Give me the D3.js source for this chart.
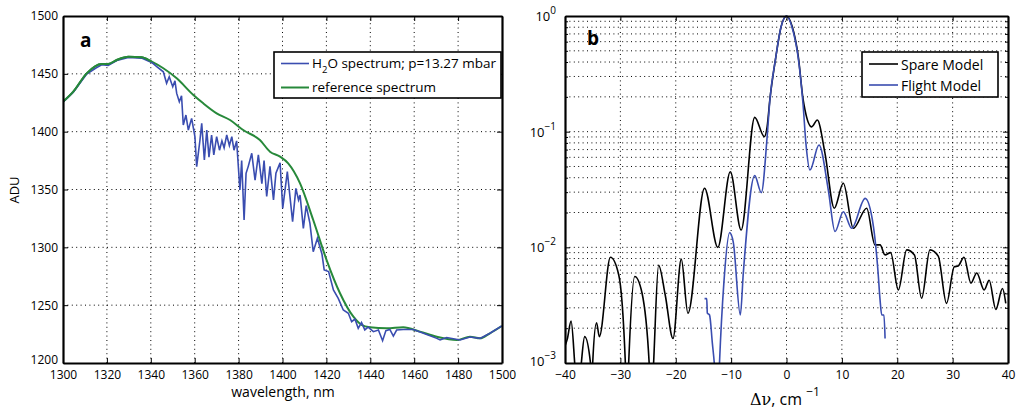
<!DOCTYPE html>
<html><head><meta charset="utf-8">
<script src="https://cdn.jsdelivr.net/npm/d3@7"></script>
<style>
html,body{margin:0;padding:0;background:#fff;}
svg text{font-family:"Open Sans","Liberation Sans",sans-serif;fill:#000;}
</style></head>
<body><svg id="c" width="1016" height="410"></svg>
<script>
// ---------- Panel a data ----------
const waveRef = [1300,1304.7,1310.8,1317.6,1320.6,1324.5,1329.8,1335.8,1340.4,1345.7,1351.8,1359.4,1363.9,1370,1376.1,1382.1,1389.7,1394.3,1398.9,1402.6,1408,1414,1420.1,1426.2,1432.3,1436,1439.9,1447.5,1455,1462.6,1470.3,1479.4,1485.4,1490,1494.5,1499.9];
const aduRef = [1425.9,1434.6,1450.4,1458.5,1458.5,1462,1464.8,1464.3,1460.5,1454.8,1446.1,1431.7,1424.5,1415.9,1410.1,1401.4,1392.8,1382.7,1378.4,1372.6,1355.3,1323.6,1289,1260.3,1240,1233,1230.9,1230,1230.9,1227.1,1222.7,1219.9,1222.7,1221.3,1225.7,1232];
const waveH2O = [1300,1304.7,1310.8,1315,1317.6,1320.6,1324.5,1329.8,1335.8,1340.4,1342.7,1345.7,1347.2,1348.4,1350,1351,1351.8,1353,1354,1354.8,1356,1357.1,1358.6,1360.1,1360.9,1362.4,1363.2,1364.4,1365.5,1366.5,1367.7,1368.7,1370,1371.3,1372.4,1373.4,1374.6,1375.8,1376.9,1377.9,1379.1,1380.6,1381.4,1382.5,1383.4,1384.4,1386,1387.5,1389,1390.6,1391.6,1392.8,1394.3,1395.9,1397,1398.9,1400.1,1402.2,1404.6,1406.1,1407.3,1408,1409.5,1410.8,1412.5,1414,1415.9,1418,1419,1421,1423.2,1425.4,1427.7,1430,1431.5,1433,1434.5,1436,1437.5,1439,1441.4,1443.7,1445.6,1447.1,1448.9,1450.5,1452,1455,1459.6,1464.2,1470.3,1471.8,1474.8,1480.9,1485.4,1490,1494.5,1499.9];
const aduH2O = [1425.5,1434.2,1449.8,1455,1457.8,1457.2,1461.5,1464.2,1463.6,1459.8,1456.3,1451.8,1441.8,1447.5,1438.9,1444,1433.1,1425.9,1431,1405.8,1414.4,1401.4,1411.5,1395.7,1369.7,1392.8,1407.2,1375.5,1401.4,1378,1397.1,1380,1395.7,1384,1392,1386,1397.1,1388,1395.7,1384,1392,1349.6,1375,1323.6,1364,1370,1381.3,1358,1380,1355,1375,1344,1370,1341,1364,1373,1333.7,1365.4,1322.2,1351,1341,1345.2,1316.4,1336,1320.7,1296.2,1307.8,1294,1280.4,1279,1263.1,1255.9,1245.8,1243,1235.7,1238,1230,1235,1228.6,1231,1227.1,1228.5,1219.3,1228,1229,1223.3,1228.5,1229,1229,1225.7,1221.3,1219.9,1222,1219.9,1222.5,1221.3,1225.7,1232];
const ticksWave = [1300,1320,1340,1360,1380,1400,1420,1440,1460,1480,1500];
const ticksADU = [1200,1250,1300,1350,1400,1450,1500];
const legendA = ["spectrum; p=13.27 mbar","reference spectrum"];

// ---------- Panel b data ----------
const dvSpare = [-40,-39.6,-38.9,-38.25,-37.7,-37.05,-36.45,-35.4,-35.2,-35.0,-34.3,-33.8,-31.8,-30.3,-29.1,-28.8,-28.5,-27.4,-26.1,-24.8,-24.4,-24.0,-23.1,-21.9,-20.5,-19.0,-17.8,-14.8,-12.4,-10.15,-8.2,-5.74,-4.0,-3.5,-3.0,-2.0,-1.0,0,1.0,2.13,3.0,3.34,4.55,5.56,6.95,8.63,10.26,12.07,14.48,15.98,16.9,17.8,18.8,20.2,21.7,23.1,24.4,25.9,27.4,28.9,30.3,31.0,32.05,33.3,34.35,35.7,36.6,37.8,39.0,39.6];
const valSpare = [1.4e-3,1.6e-3,2.3e-3,1.0e-3,4e-4,1.0e-3,1.69e-3,1.0e-3,5e-4,1.0e-3,2.23e-3,1.69e-3,8.2e-3,5.8e-3,1.0e-3,4e-4,1.0e-3,5.6e-3,4.05e-3,1.0e-3,4e-4,1.0e-3,7.0e-3,3.87e-3,1.63e-3,7.9e-3,2.69e-3,0.0324,0.0100,0.045,0.0141,0.133,0.0905,0.11,0.19,0.42,0.80,1.0,0.82,0.445,0.19,0.154,0.110,0.126,0.065,0.0218,0.0358,0.0146,0.0218,0.0105,0.0105,8.6e-3,9.0e-3,4.28e-3,9.5e-3,8.6e-3,3.63e-3,9.5e-3,8.4e-3,3.28e-3,6.8e-3,6.9e-3,8.2e-3,4.9e-3,6.0e-3,4.28e-3,5.2e-3,2.91e-3,4.4e-3,3.28e-3];
const dvFlight = [-14.8,-14.4,-14.3,-13.9,-13.4,-12.9,-12.5,-12.1,-11.3,-10.26,-9.6,-8.34,-7.8,-5.74,-4.55,-3.5,-3.0,-2.0,-1.0,0,1.0,2.13,3.0,3.5,4.24,5.87,7.55,8.76,10.26,11.77,14.2,15.7,16.5,16.9,17.2,17.6,17.8];
const valFlight = [3.6e-3,3.6e-3,2.7e-3,2.6e-3,1.5e-3,8e-4,3e-4,1.0e-3,5e-3,0.0134,0.011,2.6e-3,6e-3,0.0417,0.0297,0.09,0.188,0.42,0.80,1.0,0.80,0.43,0.17,0.08,0.0466,0.0767,0.0313,0.0137,0.0203,0.0146,0.0265,0.0151,6.4e-3,3.5e-3,2.6e-3,2.6e-3,1.63e-3];
const ticksDv = [-40,-30,-20,-10,0,10,20,30,40];
const ticksLogMajor = [1e-3,1e-2,1e-1,1];
const legendB = ["Spare Model","Flight Model"];

const svg = d3.select("#c");
svg.append("rect").attr("width",1016).attr("height",410).attr("fill","#fff");
const defs = svg.append("defs");
const BLUE = "#3a4db0", GREEN = "#27893a";

function frame(g, x, y, xt, yt, minorY){
  const [x0,x1] = x.range(), [y0,y1] = y.range();
  const grid = g.append("g").attr("stroke","#000").attr("stroke-width",1).attr("stroke-dasharray","1,3.4");
  xt.forEach(t=>{ if(t>x.domain()[0] && t<x.domain()[1]) grid.append("line").attr("x1",x(t)).attr("x2",x(t)).attr("y1",y0).attr("y2",y1);});
  yt.concat(minorY||[]).forEach(t=>{ const p=y(t); if(p<y0-1 && p>y1+1) grid.append("line").attr("x1",x0).attr("x2",x1).attr("y1",p).attr("y2",p);});
}
function axes(g, x, y, xt, yt, yFmt, minorY){
  const [x0,x1] = x.range(), [y0,y1] = y.range();
  const fs = "12px";
  const b = g.append("g").attr("transform",`translate(0,${y0})`).call(d3.axisBottom(x).tickValues(xt).tickSize(-5).tickSizeOuter(0).tickPadding(7).tickFormat(d=>d<0?"\u2212"+(-d):d));
  const t = g.append("g").attr("transform",`translate(0,${y1})`).call(d3.axisTop(x).tickValues(xt).tickSize(-5).tickSizeOuter(0).tickFormat(""));
  const l = g.append("g").attr("transform",`translate(${x0},0)`).call(d3.axisLeft(y).tickValues(yt).tickSize(-5).tickSizeOuter(0).tickPadding(5).tickFormat(yFmt||(d=>d)));
  const r = g.append("g").attr("transform",`translate(${x1},0)`).call(d3.axisRight(y).tickValues(yt).tickSize(-5).tickSizeOuter(0).tickFormat(""));
  if(minorY){
    g.append("g").attr("transform",`translate(${x0},0)`).call(d3.axisLeft(y).tickValues(minorY).tickSize(-3).tickSizeOuter(0).tickFormat("")).select(".domain").remove();
    g.append("g").attr("transform",`translate(${x1},0)`).call(d3.axisRight(y).tickValues(minorY).tickSize(-3).tickSizeOuter(0).tickFormat("")).select(".domain").remove();
  }
  [b,t,l,r].forEach(a=>{a.selectAll("text").attr("font-size",fs).attr("font-family",'"Open Sans",sans-serif').attr("fill","#000");
    a.select(".domain").attr("stroke","#000").attr("stroke-width",2.2);
    a.selectAll(".tick line").attr("stroke","#000").attr("stroke-width",1);});
  return l;
}

// ================= Panel a =================
const xa = d3.scaleLinear([1300,1500],[63,502]);
const ya = d3.scaleLinear([1200,1500],[363,16]);
const ga = svg.append("g");
defs.append("clipPath").attr("id","clipA").append("rect").attr("x",63).attr("y",16).attr("width",439).attr("height",347);
frame(ga, xa, ya, ticksWave, ticksADU);
const lineA = d3.line().x(d=>xa(d[0])).y(d=>ya(d[1]));
ga.append("path").datum(waveRef.map((w,i)=>[w,aduRef[i]])).attr("clip-path","url(#clipA)")
  .attr("d",lineA.curve(d3.curveMonotoneX)).attr("fill","none").attr("stroke",GREEN).attr("stroke-width",2);
ga.append("path").datum(waveH2O.map((w,i)=>[w,aduH2O[i]])).attr("clip-path","url(#clipA)")
  .attr("d",d3.line().x(d=>xa(d[0])).y(d=>ya(d[1]))).attr("fill","none").attr("stroke",BLUE).attr("stroke-width",1.6);
ga.append("path").datum(waveRef.filter(w=>w<1342).map((w,i)=>[w,aduRef[i]])).attr("clip-path","url(#clipA)")
  .attr("d",lineA.curve(d3.curveMonotoneX)).attr("fill","none").attr("stroke",GREEN).attr("stroke-width",2);
const la0 = axes(ga, xa, ya, ticksWave, ticksADU);
la0.selectAll(".tick text").filter(d=>d===1200).attr("dy","0.05em");
ga.append("text").attr("x",80).attr("y",47).attr("font-size","19px").attr("font-weight","bold").text("a");
ga.append("text").attr("x",283).attr("y",397).attr("text-anchor","middle").attr("font-size","14px").text("wavelength, nm");
ga.append("text").attr("transform","translate(19,190) rotate(-90)").attr("text-anchor","middle").attr("font-size","13px").text("ADU");
// legend a
const la = ga.append("g");
la.append("rect").attr("x",274).attr("y",52).attr("width",227).attr("height",46).attr("fill","#fff").attr("stroke","#000").attr("stroke-width",1.6);
la.append("line").attr("x1",281).attr("x2",309).attr("y1",63.5).attr("y2",63.5).attr("stroke",BLUE).attr("stroke-width",1.6);
la.append("line").attr("x1",281).attr("x2",309).attr("y1",87.5).attr("y2",87.5).attr("stroke",GREEN).attr("stroke-width",2);
const t1 = la.append("text").attr("x",312).attr("y",68).attr("font-size","13.5px");
t1.append("tspan").text("H");
t1.append("tspan").attr("dy",5).attr("font-size","9.5px").text("2");
t1.append("tspan").attr("dy",-5).text("O "+legendA[0]);
la.append("text").attr("x",312).attr("y",92).attr("font-size","13.5px").text(legendA[1]);

// ================= Panel b =================
const xb = d3.scaleLinear([-40,40],[565,1008]);
const yb = d3.scaleLog([1e-3,1],[363,16]);
const minorB = [];
[1e-3,1e-2,1e-1].forEach(d=>{for(let k=2;k<=9;k++) minorB.push(d*k);});
const gb = svg.append("g");
defs.append("clipPath").attr("id","clipB").append("rect").attr("x",565).attr("y",15).attr("width",443).attr("height",348);
frame(gb, xb, yb, ticksDv, ticksLogMajor, minorB);
const lineB = d3.line().x(d=>xb(d[0])).y(d=>yb(d[1])).curve(d3.curveMonotoneX);
gb.append("path").datum(dvSpare.map((v,i)=>[v,valSpare[i]])).attr("clip-path","url(#clipB)")
  .attr("d",lineB).attr("fill","none").attr("stroke","#000").attr("stroke-width",1.6);
gb.append("path").datum(dvFlight.map((v,i)=>[v,valFlight[i]])).attr("clip-path","url(#clipB)")
  .attr("d",lineB).attr("fill","none").attr("stroke",BLUE).attr("stroke-width",1.6);
const lb = axes(gb, xb, yb, ticksDv, ticksLogMajor, ()=>"", minorB);
// log tick labels with superscripts
ticksLogMajor.forEach(t=>{
  const e = Math.round(Math.log10(t));
  const tx = gb.append("text").attr("x",556).attr("y",yb(t)+(e===-3?3:5)).attr("text-anchor","end").attr("font-size","13px");
  tx.append("tspan").text("10");
  tx.append("tspan").attr("dy",-7).attr("font-size","10px").text(e===0?"0":"\u2212"+(-e));
});
gb.append("text").attr("x",587).attr("y",45).attr("font-size","19px").attr("font-weight","bold").text("b");
const xl = gb.append("text").attr("x",785).attr("y",405).attr("text-anchor","middle").attr("font-size","16px");
xl.append("tspan").attr("font-family","'DejaVu Serif',serif").text("\u0394\u03BD");
xl.append("tspan").text(", cm ");
xl.append("tspan").attr("dy",-9).attr("font-size","12px").text("\u22121");
// legend b
const lg = gb.append("g");
lg.append("rect").attr("x",862).attr("y",52).attr("width",136).attr("height",45).attr("fill","#fff").attr("stroke","#000").attr("stroke-width",1.6);
lg.append("line").attr("x1",869).attr("x2",898).attr("y1",64).attr("y2",64).attr("stroke","#000").attr("stroke-width",1.6);
lg.append("line").attr("x1",869).attr("x2",898).attr("y1",85).attr("y2",85).attr("stroke",BLUE).attr("stroke-width",1.6);
lg.append("text").attr("x",901).attr("y",69.5).attr("font-size","14px").text(legendB[0]);
lg.append("text").attr("x",901).attr("y",90.5).attr("font-size","14px").text(legendB[1]);
</script></body></html>
